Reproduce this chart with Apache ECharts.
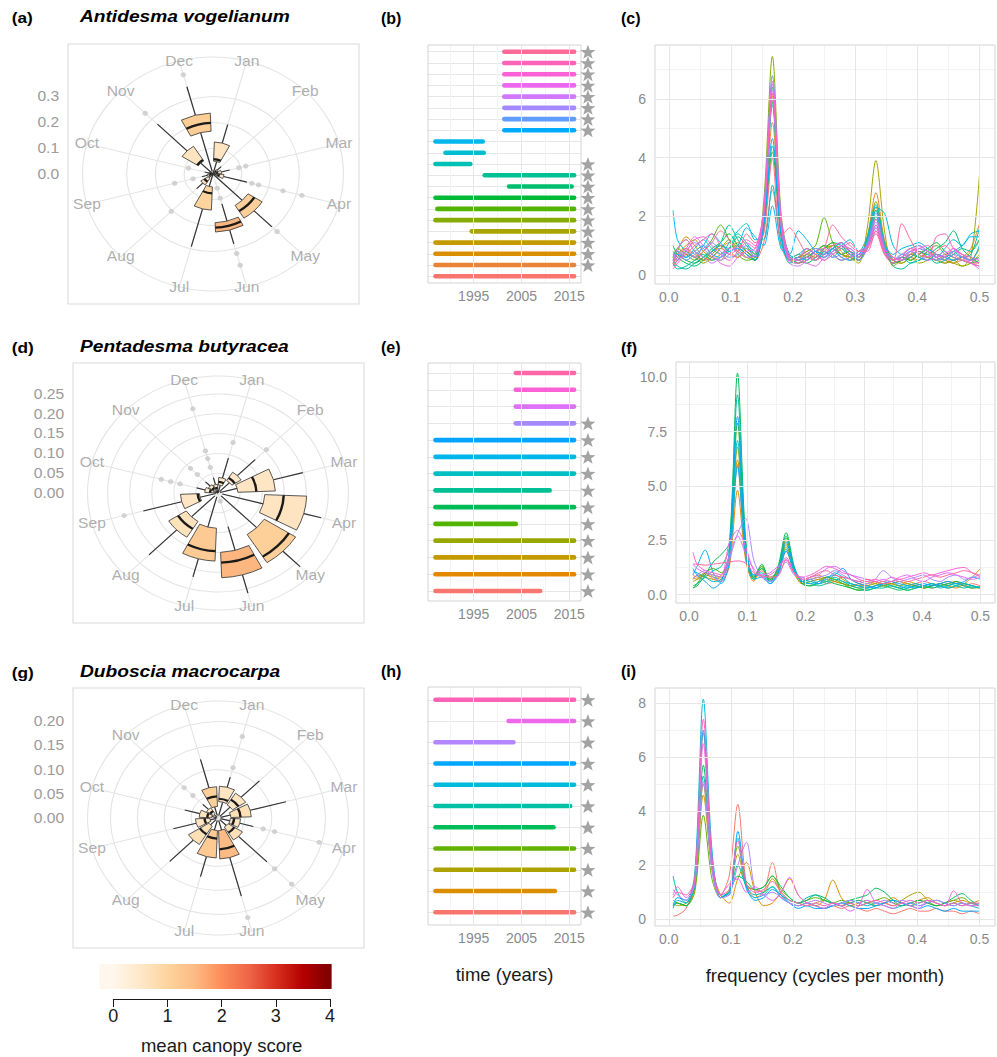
<!DOCTYPE html>
<html>
<head>
<meta charset="utf-8">
<title>Flowering phenology of three tree species</title>
<script src="https://cdn.jsdelivr.net/npm/echarts@6/dist/echarts.min.js"></script>
<style>
  html, body { margin: 0; padding: 0; background: #ffffff; }
  #main { position: absolute; left: 0; top: 0; width: 997px; height: 1057px; }
  #rose { position: absolute; left: 0; top: 0; width: 332px; height: 960px;
          transform: scaleX(1.115); transform-origin: 0 0; }
</style>
</head>
<body>
<div id="main"></div>
<div id="rose"></div>
<script>
const FONT = "'Liberation Sans', Arial, Helvetica, sans-serif";
const MONTHS = ['Jan', 'Feb', 'Mar', 'Apr', 'May', 'Jun', 'Jul', 'Aug', 'Sep', 'Oct', 'Nov', 'Dec'];

// ---------- monthly flowering boxplots (rows Jan..Dec: q1, median, q3, lower whisker, upper whisker) ----------
const ANTIDESMA_BOX = [
  [0.050, 0.058, 0.124, 0.000, 0.198],
  [0.006, 0.012, 0.020, 0.000, 0.040],
  [0.008, 0.015, 0.030, 0.000, 0.060],
  [0.012, 0.020, 0.038, 0.000, 0.122],
  [0.144, 0.170, 0.202, 0.000, 0.290],
  [0.189, 0.208, 0.225, 0.120, 0.280],
  [0.050, 0.075, 0.140, 0.000, 0.291],
  [0.020, 0.035, 0.050, 0.000, 0.080],
  [0.005, 0.010, 0.020, 0.000, 0.040],
  [0.004, 0.008, 0.015, 0.000, 0.030],
  [0.060, 0.065, 0.127, 0.000, 0.273],
  [0.166, 0.198, 0.236, 0.010, 0.350]
];
const ANTIDESMA_CANOPY = [0.6, 0.4, 0.5, 0.5, 1.1, 1.55, 1.0, 0.7, 0.5, 0.4, 0.6, 1.15];
// [month index, value]
const ANTIDESMA_OUTLIERS = [[2, 0.093], [2, 0.118], [3, 0.14], [3, 0.164], [3, 0.252], [3, 0.32], [4, 0.315],
  [5, 0.057], [5, 0.097], [5, 0.319], [5, 0.366], [7, 0.205], [8, 0.072], [8, 0.138], [9, 0.088], [10, 0.333], [11, 0.398]];
const ANTIDESMA_R_TICKS = [0, 0.1, 0.2, 0.3];
const ANTIDESMA_R_MAX = 0.403;

const PENTADESMA_BOX = [
  [0.020, 0.028, 0.039, 0.000, 0.091],
  [0.037, 0.045, 0.062, 0.005, 0.119],
  [0.045, 0.087, 0.130, 0.005, 0.199],
  [0.106, 0.149, 0.201, 0.010, 0.242],
  [0.124, 0.190, 0.208, 0.010, 0.263],
  [0.150, 0.176, 0.214, 0.088, 0.262],
  [0.089, 0.147, 0.172, 0.010, 0.219],
  [0.085, 0.107, 0.132, 0.010, 0.221],
  [0.042, 0.046, 0.085, 0.005, 0.175],
  [0.010, 0.018, 0.030, 0.000, 0.050],
  [0.008, 0.015, 0.025, 0.000, 0.040],
  [0.008, 0.013, 0.022, 0.000, 0.040]
];
const PENTADESMA_CANOPY = [0.5, 0.5, 0.55, 0.6, 1.1, 1.55, 1.2, 0.65, 0.55, 0.5, 0.5, 0.5];
const PENTADESMA_OUTLIERS = [[0, 0.132], [1, 0.155], [5, 0.021], [8, 0.22], [9, 0.089], [9, 0.111], [9, 0.133],
  [10, 0.066], [10, 0.088], [11, 0.067], [11, 0.09], [11, 0.11], [11, 0.22]];
const PENTADESMA_R_TICKS = [0, 0.05, 0.10, 0.15, 0.20, 0.25];
const PENTADESMA_R_MAX = 0.2626;

const DUBOSCIA_BOX = [
  [0.034, 0.040, 0.066, 0.005, 0.088],
  [0.032, 0.045, 0.061, 0.005, 0.109],
  [0.024, 0.042, 0.062, 0.005, 0.131],
  [0.023, 0.030, 0.042, 0.005, 0.068],
  [0.022, 0.036, 0.054, 0.005, 0.129],
  [0.026, 0.065, 0.085, 0.005, 0.168],
  [0.026, 0.043, 0.083, 0.005, 0.126],
  [0.020, 0.040, 0.065, 0.005, 0.127],
  [0.015, 0.025, 0.042, 0.003, 0.086],
  [0.012, 0.020, 0.035, 0.003, 0.064],
  [0.010, 0.017, 0.025, 0.002, 0.040],
  [0.024, 0.045, 0.065, 0.005, 0.126]
];
const DUBOSCIA_CANOPY = [0.6, 0.6, 0.7, 0.6, 0.7, 1.5, 1.2, 0.7, 0.6, 0.6, 0.5, 1.1];
const DUBOSCIA_OUTLIERS = [[0, 0.108], [0, 0.175], [3, 0.087], [3, 0.109], [3, 0.195], [4, 0.149], [4, 0.194],
  [5, 0.214], [10, 0.066], [10, 0.089]];
const DUBOSCIA_R_TICKS = [0, 0.05, 0.10, 0.15, 0.20];
const DUBOSCIA_R_MAX = 0.2158;

// ---------- observation spans per tree (row 1 = bottom) ----------
const ANTIDESMA_SPAN_START = [1987, 1987, 1987, 1987, 1994.6, 1987, 1987.4, 1987, 2002.4, 1997.3, 1987, 1989.1, 1987,
  2001.4, 2001.4, 2001.4, 2001.4, 2001.4, 2001.4, 2001.4, 2001.4];
const ANTIDESMA_SPAN_END = [2016, 2016, 2016, 2016, 2016, 2016, 2016, 2016, 2015.5, 2016, 1994.3, 1997.1, 1996.9,
  2016, 2016, 2016, 2016, 2016, 2016, 2016, 2016];
const ANTIDESMA_SIGNIF = [0, 1, 1, 1, 1, 1, 1, 1, 1, 1, 1, 0, 0, 1, 1, 1, 1, 1, 1, 1, 1];

const PENTADESMA_SPAN_START = [1987, 1987, 1987, 1987, 1987, 1987, 1987, 1987, 1987, 1987, 2003.8, 2003.8, 2003.8, 2003.8];
const PENTADESMA_SPAN_END = [2008.9, 2016, 2016, 2016, 2003.8, 2016, 2010.9, 2016, 2016, 2016, 2016, 2016, 2016, 2016];
const PENTADESMA_SIGNIF = [1, 1, 1, 1, 1, 1, 1, 1, 1, 1, 1, 0, 0, 0];

const DUBOSCIA_SPAN_START = [1987, 1987, 1987, 1987, 1987, 1987, 1987, 1987, 1987, 2002.3, 1987];
const DUBOSCIA_SPAN_END = [2016, 2012, 2016, 2016, 2011.7, 2015.2, 2016, 2016, 2003.3, 2016, 2016];
const DUBOSCIA_SIGNIF = [1, 1, 1, 1, 1, 1, 1, 1, 1, 1, 1];

const YEAR_TICKS = [1995, 2005, 2015];

// ---------- smoothed periodograms, one row per tree ----------
const FREQ = [0.0069, 0.0139, 0.0278, 0.0417, 0.0556, 0.0694, 0.0833, 0.0972, 0.1111, 0.125, 0.1389, 0.1528,
  0.1667, 0.1806, 0.1944, 0.2083, 0.2222, 0.2361, 0.25, 0.2639, 0.2778, 0.2917, 0.3056, 0.3194, 0.3333, 0.3472,
  0.3611, 0.375, 0.3889, 0.4028, 0.4167, 0.4306, 0.4444, 0.4583, 0.4722, 0.4861, 0.5];
const FREQ_TICKS = [0, 0.1, 0.2, 0.3, 0.4, 0.5];

const ANTIDESMA_SPECTRA = [
  [0.3,0.5,0.7,0.6,0.5,0.8,0.9,0.7,0.6,0.8, 0.5,1.1,2.9,1.0,0.5,0.6,0.8,0.5,0.7,0.9, 0.6,0.7,0.5,0.9,1.5,0.8,0.4,0.5,0.7,0.6, 0.5,0.7,0.6,0.4,0.5,0.4,0.4],
  [0.4,0.6,0.9,0.7,0.5,0.6,0.9,1.1,0.8,0.6, 0.7,1.8,5.2,1.5,0.5,0.6,0.7,0.9,0.8,0.7, 1.0,0.8,0.6,1.3,2.8,1.2,0.5,0.4,0.6,0.5, 0.8,0.6,0.4,0.5,0.6,0.9,1.75],
  [0.5,0.8,1.3,1.0,0.6,0.5,0.7,0.9,1.1,0.8, 0.5,2.1,6.2,1.8,0.6,0.4,0.5,0.7,1.0,0.9, 0.7,0.6,0.5,1.2,2.3,1.0,0.6,0.5,0.7,0.8, 0.6,0.5,0.7,0.6,0.5,0.8,1.2],
  [0.6,0.9,1.2,0.8,0.5,0.7,1.0,0.8,0.6,0.9, 0.7,2.0,6.0,1.7,0.5,0.6,0.5,0.8,0.9,1.1, 0.8,0.5,0.6,1.1,2.0,0.9,0.5,0.6,0.5,0.7, 0.9,0.6,0.5,0.4,0.6,0.5,0.9],
  [0.4,0.7,1.0,1.2,0.8,0.6,0.5,0.9,1.0,0.8, 0.6,2.0,6.1,1.7,0.5,0.7,0.6,0.5,0.8,1.0, 0.9,0.6,0.4,1.6,3.9,1.5,0.3,0.5,0.6,0.4, 0.5,0.7,0.5,0.4,0.3,0.6,3.4],
  [0.3,0.5,0.8,0.6,0.4,0.6,0.9,1.2,0.9,0.6, 0.5,2.5,7.45,2.1,0.6,0.5,0.7,0.6,0.9,1.0, 0.7,0.6,0.5,1.3,2.5,1.1,0.5,0.4,0.6,0.8, 0.6,0.5,0.4,0.5,0.3,0.4,0.7],
  [0.6,0.9,0.7,0.5,0.8,1.2,1.7,1.2,0.7,0.5, 0.6,1.5,4.2,1.3,0.5,0.6,0.8,1.0,1.95,1.1, 0.7,0.8,0.6,1.1,2.2,1.0,0.4,0.5,0.7,0.6, 0.8,1.0,0.7,0.5,0.6,0.5,0.6],
  [1.0,0.7,0.5,0.4,0.6,0.9,1.1,1.4,1.0,0.7, 0.5,2.0,5.9,1.7,0.5,0.4,0.6,0.8,1.0,0.7, 0.5,0.6,0.8,1.0,1.9,0.9,0.5,0.6,0.5,0.7, 0.9,1.1,0.8,0.6,0.5,0.4,0.5],
  [0.8,0.6,0.4,0.3,0.5,0.8,1.0,0.9,1.3,1.0, 0.6,2.1,6.4,1.8,0.6,0.5,0.4,0.6,0.9,1.1, 1.0,0.7,0.5,0.9,1.7,0.8,0.4,0.5,0.6,0.8, 0.7,0.9,1.1,1.5,0.9,0.6,0.4],
  [0.5,0.3,0.2,0.4,0.6,0.8,1.1,1.7,1.2,0.8, 0.6,1.6,4.4,1.4,0.4,0.5,0.6,0.8,0.7,0.9, 1.1,0.8,0.5,1.0,2.0,1.0,0.3,0.2,0.4,0.5, 0.6,0.4,0.5,0.7,0.9,0.8,1.2],
  [0.4,0.2,0.3,0.5,0.7,0.5,0.6,0.9,1.4,1.1, 0.7,1.9,5.8,1.7,0.7,0.5,0.6,0.5,0.8,0.6, 0.9,0.7,0.6,1.2,2.4,1.1,0.5,0.6,0.4,0.5, 0.7,0.5,0.6,0.8,0.6,0.7,1.6],
  [0.7,0.8,0.6,0.9,1.2,0.9,0.7,1.1,1.5,1.75, 1.2,1.2,3.06,1.1,0.6,0.7,0.9,0.7,0.6,0.8, 1.0,1.2,0.8,1.3,2.3,2.1,1.0,0.7,0.9,1.0, 0.8,0.6,0.9,1.2,1.0,1.4,1.5],
  [2.2,1.2,0.8,0.6,1.0,1.4,1.1,0.8,1.0,1.6, 1.3,1.0,2.35,0.9,0.7,1.5,1.2,0.8,0.6,0.9, 1.1,0.8,0.7,0.9,1.6,1.0,0.7,0.9,1.0,1.1, 0.9,0.7,0.6,0.8,1.0,1.3,1.3],
  [0.5,0.7,0.6,0.8,1.0,0.7,0.6,0.8,0.9,0.7, 0.5,1.7,4.65,1.4,0.5,0.6,0.5,0.8,0.7,0.9, 0.6,0.5,0.7,1.1,2.2,1.0,0.5,0.6,0.8,0.6, 0.5,0.7,0.6,0.5,0.6,0.5,1.0],
  [0.6,0.8,0.5,0.7,0.9,1.1,0.8,0.6,0.7,1.0, 0.8,2.3,6.8,2.0,0.6,0.5,0.7,0.9,0.8,0.6, 0.7,0.9,0.6,1.1,2.1,1.0,0.5,0.7,0.6,0.9, 0.8,0.6,0.5,0.7,0.6,0.5,0.6],
  [0.7,0.5,0.8,1.1,0.9,0.6,0.5,0.7,1.0,0.9, 0.6,2.1,6.3,1.8,0.5,0.6,0.9,0.7,0.5,0.8, 1.0,0.7,0.5,0.9,1.8,0.8,0.6,0.5,0.8,0.9, 0.7,0.5,0.6,0.8,0.7,0.4,0.3],
  [0.5,0.9,1.2,0.8,0.6,0.4,0.6,0.9,0.8,0.6, 0.7,2.0,6.0,1.7,0.4,0.3,0.5,0.8,0.9,0.7, 0.5,0.6,0.8,1.0,1.6,0.8,0.5,0.7,0.9,0.7, 0.5,0.6,0.8,0.6,0.5,0.4,0.2],
  [0.4,0.6,0.9,1.3,1.0,0.7,0.4,0.3,0.6,0.8, 0.9,2.2,6.5,1.9,0.6,0.5,0.4,0.3,0.6,0.8, 1.0,0.9,0.7,1.0,1.9,0.9,0.6,0.5,0.7,1.0, 0.8,0.6,0.7,0.9,0.6,0.4,0.3],
  [0.3,0.5,0.8,1.2,1.3,1.0,0.7,0.5,0.8,1.1, 0.9,2.2,6.6,1.9,0.5,0.4,0.6,0.5,0.7,1.0, 1.1,0.8,0.6,0.9,1.7,0.8,0.5,0.6,0.8,0.9, 1.0,0.7,0.6,0.9,0.7,0.5,0.4],
  [0.2,0.4,0.7,1.0,1.2,1.4,1.0,0.7,0.9,1.2, 1.0,2.1,6.2,1.8,0.6,0.5,0.9,0.7,0.5,0.7, 0.9,1.1,0.8,0.8,1.5,0.7,0.4,0.6,0.9,0.8, 0.6,1.3,1.4,0.9,0.7,0.6,0.5],
  [0.4,0.7,0.9,0.6,0.8,1.1,1.5,1.2,0.8,1.4, 1.1,1.4,3.98,1.3,1.6,1.2,0.7,0.6,0.9,1.7, 1.3,1.0,0.8,0.9,1.4,0.7,0.5,1.75,1.2,0.7, 0.6,0.8,1.0,0.7,0.5,0.4,0.3]
];
const ANTIDESMA_SPEC_TICKS = [0, 2, 4, 6];

const PENTADESMA_SPECTRA = [
  [0.9,0.8,1.0,0.7,0.6,1.5,6.0,1.8,0.7,1.1, 0.6,0.9,2.0,1.0,0.5,0.6,0.7,0.5,0.6,0.8, 0.7,0.5,0.4,0.6,0.5,0.5,0.6,0.4,0.5,0.6, 0.5,0.4,0.5,0.6,0.4,0.5,0.4],
  [0.8,0.7,0.9,0.8,0.7,1.3,4.8,1.6,0.6,1.2, 0.7,1.1,2.5,1.1,0.6,0.8,0.9,0.7,0.6,0.5, 0.4,0.5,0.6,0.5,0.4,0.5,0.6,0.5,0.4,0.3, 0.4,0.5,0.4,0.3,0.5,0.8,1.2],
  [0.7,0.9,0.8,0.7,0.9,1.6,6.2,1.9,0.8,1.3, 0.7,1.0,2.3,1.2,0.6,0.7,0.8,0.6,0.9,0.7, 0.5,0.4,0.5,0.6,0.4,0.5,0.4,0.6,0.5,0.4, 0.3,0.4,0.5,0.6,0.4,0.3,0.4],
  [0.6,0.7,1.0,0.9,0.8,1.7,6.8,2.0,0.7,1.2, 0.8,1.1,2.2,1.0,0.5,0.6,0.7,0.8,0.6,0.5, 0.4,0.3,0.4,0.5,0.6,0.5,0.4,0.5,0.4,0.3, 0.4,0.5,0.6,0.5,0.4,0.3,0.3],
  [0.3,0.5,1.0,1.2,1.0,1.9,7.9,2.2,0.8,1.3, 0.6,1.2,2.6,1.2,0.5,0.4,0.6,0.8,0.7,0.5, 0.3,0.2,0.3,0.4,0.5,0.4,0.3,0.2,0.3,0.4, 0.5,0.4,0.3,0.4,0.5,0.4,0.3],
  [0.3,0.4,0.9,1.5,1.85,2.4,10.2,2.6,0.7,1.4, 0.6,1.3,2.85,1.3,0.5,0.4,0.5,0.6,0.5,0.4, 0.3,0.2,0.2,0.3,0.4,0.3,0.2,0.3,0.4,0.3, 0.4,0.5,0.4,0.6,0.5,0.4,0.3],
  [0.4,0.5,0.8,1.1,1.3,2.2,9.2,2.4,0.8,1.2, 0.7,1.2,2.7,1.2,0.6,0.5,0.4,0.5,0.7,0.6, 0.4,0.3,0.2,0.3,0.3,0.4,0.3,0.2,0.3,0.4, 0.3,0.4,0.5,0.4,0.3,0.4,0.3],
  [1.1,1.0,0.8,0.6,0.7,1.8,7.1,2.1,0.9,1.0, 0.6,1.0,2.1,1.1,0.7,0.6,0.5,0.6,0.8,0.6, 0.5,0.4,0.3,0.4,0.5,0.4,0.3,0.4,0.5,0.4, 0.5,0.3,0.4,0.5,0.4,0.3,0.4],
  [0.9,1.3,2.05,1.0,0.5,1.5,5.9,1.8,0.7,0.8, 0.5,0.9,2.0,1.1,0.6,0.5,0.6,0.7,1.0,0.8, 0.5,0.4,0.3,0.4,0.5,0.6,0.5,0.4,0.3,0.4, 0.5,0.4,0.3,0.4,0.5,0.4,0.3],
  [1.2,0.9,0.6,0.3,0.6,2.0,8.2,2.3,0.9,0.9, 0.5,1.0,2.4,1.2,0.6,0.7,0.5,0.8,0.9,1.2, 0.7,0.5,0.4,0.3,0.5,0.6,0.4,0.3,0.4,0.5, 0.4,0.5,0.6,0.5,0.6,0.8,0.7],
  [0.7,0.9,1.1,0.8,0.6,1.6,2.8,3.5,1.6,0.8, 0.6,0.9,1.5,0.9,0.8,0.7,0.8,0.9,1.1,0.9, 0.7,0.6,0.5,0.7,1.1,0.8,0.6,0.7,0.8,0.9, 0.7,0.6,0.8,0.9,0.7,0.8,0.9],
  [1.4,1.2,1.0,0.9,0.8,1.8,2.7,1.9,1.2,0.9, 1.0,1.3,1.6,1.0,0.7,0.8,0.9,1.2,1.3,1.1, 0.9,0.8,0.7,0.6,0.7,0.6,0.8,0.9,0.7,0.6, 0.8,0.9,1.0,0.9,0.8,0.7,0.8],
  [1.95,1.4,1.1,1.0,0.9,2.4,2.95,2.2,1.1,0.8, 0.9,1.2,1.7,1.0,0.8,0.9,1.1,1.3,1.2,1.0, 0.9,0.7,0.6,0.7,0.6,0.8,0.7,0.8,0.9,1.0, 0.9,1.0,1.1,1.2,1.25,1.0,0.9],
  [1.4,1.4,1.35,1.4,1.45,1.5,1.55,1.45,1.0,0.85, 0.8,0.85,1.6,1.0,0.7,0.8,1.0,1.1,0.9,0.8, 0.7,0.6,0.7,0.6,0.5,0.6,0.7,0.6,0.7,0.8, 0.9,0.8,0.9,1.0,1.1,1.0,0.8]
];
const PENTADESMA_SPEC_TICKS = [0, 2.5, 5, 7.5, 10];

const DUBOSCIA_SPECTRA = [
  [0.12,0.15,0.4,1.4,6.9,2.2,0.9,1.6,4.25,1.3, 0.8,1.0,2.1,0.9,0.6,0.5,0.6,0.5,0.4,0.5, 0.4,0.5,0.4,0.3,0.4,0.3,0.2,0.3,0.4,0.3, 0.3,0.4,0.3,0.3,0.2,0.3,0.2],
  [0.5,0.6,0.5,1.1,4.6,1.9,0.9,0.6,1.5,2.1, 1.0,0.5,0.6,1.0,1.5,0.9,0.6,0.5,0.7,1.45, 0.8,0.5,0.6,0.7,0.5,0.6,0.8,0.6,0.5,0.7, 0.8,0.6,0.5,0.6,0.7,0.6,0.7],
  [0.6,0.5,0.6,1.2,5.0,1.9,0.8,1.0,2.4,1.2, 1.1,1.0,1.5,1.0,0.7,0.6,0.5,0.6,0.7,0.6, 0.5,0.6,0.7,0.6,0.5,0.6,0.5,0.7,0.9,1.0, 0.7,0.5,0.6,0.7,0.6,0.5,0.6],
  [0.7,0.6,0.5,1.0,3.85,1.5,0.8,1.1,2.7,1.3, 1.1,1.2,1.6,1.1,0.8,0.6,0.7,0.8,0.7,0.6, 0.7,0.6,0.5,0.6,0.7,0.8,0.6,0.5,0.6,0.7, 0.6,0.5,0.6,0.7,0.8,0.6,0.5],
  [0.5,0.6,0.5,1.3,5.7,2.0,0.8,1.0,1.6,1.4, 1.1,1.2,1.6,1.2,0.8,0.6,0.7,0.9,0.8,0.6, 0.5,0.7,0.8,0.9,1.15,1.0,0.7,0.5,0.6,0.7, 0.6,0.5,0.6,0.8,0.95,0.7,0.5],
  [1.6,1.0,0.6,1.2,5.3,1.9,0.8,1.0,2.0,1.2, 0.9,1.0,1.2,0.9,0.7,0.6,0.8,0.9,0.7,0.6, 0.5,0.6,0.7,0.6,0.5,0.6,0.7,0.6,0.5,0.6, 0.7,0.6,0.5,0.6,0.5,0.6,0.5],
  [0.4,0.7,0.6,1.7,8.15,2.6,0.8,1.0,3.0,1.1, 0.8,0.9,1.2,0.8,0.6,0.5,0.6,0.5,0.4,0.5, 0.6,0.7,0.6,0.5,0.6,0.5,0.4,0.5,0.6,0.5, 0.6,0.7,0.6,0.5,0.6,0.5,0.4],
  [0.5,0.8,0.7,1.5,7.0,2.3,0.9,0.9,3.25,1.2, 0.7,0.8,1.1,0.9,0.6,0.4,0.5,0.4,0.4,0.5, 0.6,0.5,0.4,0.4,0.5,0.6,0.7,0.6,0.5,0.4, 0.5,0.4,0.3,0.4,0.3,0.3,0.3],
  [1.1,0.9,0.7,1.3,5.1,1.8,0.8,0.9,2.0,2.85, 1.1,0.9,1.0,0.8,0.6,0.5,0.6,0.7,0.6,0.5, 0.6,0.7,0.6,0.7,0.6,0.7,0.6,0.7,0.6,0.5, 0.6,0.7,0.6,0.5,0.6,0.5,0.6],
  [0.9,1.2,0.8,1.4,6.5,2.0,0.9,1.3,1.5,1.0, 1.2,0.9,0.7,1.0,1.55,0.9,0.6,0.5,0.4,0.6, 0.5,0.3,0.5,1.1,0.6,0.5,0.4,0.6,0.5,0.4, 0.7,0.6,0.5,1.05,0.6,0.5,0.5],
  [0.8,1.0,0.9,1.5,7.4,2.3,0.9,1.1,2.9,1.3, 1.0,1.1,1.4,1.0,0.7,0.6,0.5,0.6,0.5,0.6, 0.5,0.6,0.5,0.6,0.7,0.6,0.5,0.6,0.7,0.6, 0.7,0.6,0.5,0.6,0.5,0.6,0.6]
];
const DUBOSCIA_SPEC_TICKS = [0, 2, 4, 6, 8];

// ---------- colour scales ----------
const ORRD = ['#fff7ec', '#fee8c8', '#fdd49e', '#fdbb84', '#fc8d59', '#ef6548', '#d7301f', '#b30000', '#7f0000'];
const CANOPY_TICKS = [0, 1, 2, 3, 4];
const COLORBAR_SPAN = [-0.26, 4.03];

function hex2rgb(h) { return [1, 3, 5].map(i => parseInt(h.slice(i, i + 2), 16)); }
function orRd(v) {
  const t = Math.max(0, Math.min(1, v / 4)) * (ORRD.length - 1);
  const i = Math.min(Math.floor(t), ORRD.length - 2), f = t - i;
  const a = hex2rgb(ORRD[i]), b = hex2rgb(ORRD[i + 1]);
  return 'rgb(' + a.map((c, j) => Math.round(c + (b[j] - c) * f)).join(',') + ')';
}
// evenly spaced hues in HCL (c = 100, l = 65), starting at 15 degrees
function hueColors(n) {
  const out = [];
  const Xn = 95.047, Yn = 100, Zn = 108.883;
  const den = Xn + 15 * Yn + 3 * Zn, un = 4 * Xn / den, vn = 9 * Yn / den;
  const L = 65, C = 100;
  const gam = x => { x = Math.max(0, Math.min(1, x)); return x <= 0.0031308 ? 12.92 * x : 1.055 * Math.pow(x, 1 / 2.4) - 0.055; };
  for (let k = 0; k < n; k++) {
    const h = (15 + 360 * k / n) * Math.PI / 180;
    const U = C * Math.cos(h), V = C * Math.sin(h);
    const Y = Yn * Math.pow((L + 16) / 116, 3);
    const u = U / (13 * L) + un, v = V / (13 * L) + vn;
    const X = Y * 9 * u / (4 * v), Z = Y * (12 - 3 * u - 20 * v) / (4 * v);
    const x = X / 100, y = Y / 100, z = Z / 100;
    const r = gam(3.2404542 * x - 1.5371385 * y - 0.4985314 * z);
    const g = gam(-0.9692660 * x + 1.8760108 * y + 0.0415560 * z);
    const b = gam(0.0556434 * x - 0.2040259 * y + 1.0572252 * z);
    out.push('#' + [r, g, b].map(c => Math.round(c * 255).toString(16).padStart(2, '0')).join(''));
  }
  return out;
}

const GRID_MAJOR = '#e6e6e6', GRID_MINOR = '#f3f3f3', PANEL_BORDER = '#d4d4d4';
const TICK_TEXT = '#8a8a8a', ROSE_GRID = '#e4e4e4', INK = '#1a1a1a';

// ====================== rose panels (left column) ======================
const ROSE_PANEL = 260, RING = 0.45, DATA_FRAC = 0.40, BOX_WIDTH = 0.85;
const ROSE = [
  { tag: '(a)', species: 'Antidesma vogelianum', box: ANTIDESMA_BOX, canopy: ANTIDESMA_CANOPY,
    outliers: ANTIDESMA_OUTLIERS, ticks: ANTIDESMA_R_TICKS, rMax: ANTIDESMA_R_MAX, digits: 1, left: 61, top: 44, tagTop: 9 },
  { tag: '(d)', species: 'Pentadesma butyracea', box: PENTADESMA_BOX, canopy: PENTADESMA_CANOPY,
    outliers: PENTADESMA_OUTLIERS, ticks: PENTADESMA_R_TICKS, rMax: PENTADESMA_R_MAX, digits: 2, left: 65.5, top: 363, tagTop: 339 },
  { tag: '(g)', species: 'Duboscia macrocarpa', box: DUBOSCIA_BOX, canopy: DUBOSCIA_CANOPY,
    outliers: DUBOSCIA_OUTLIERS, ticks: DUBOSCIA_R_TICKS, rMax: DUBOSCIA_R_MAX, digits: 2, left: 65.5, top: 688, tagTop: 664 }
];

function roseBoxItem(params, api) {
  const cs = params.coordSys, cx = cs.cx, cy = cs.cy;
  const m = api.value(0);
  const q1 = api.value(1), med = api.value(2), q3 = api.value(3), lo = api.value(4), hi = api.value(5);
  const fill = orRd(api.value(6));
  const dist = v => { const p = api.coord([v, m]); return Math.hypot(p[0] - cx, p[1] - cy); };
  const dir = a => { const p = api.coord([hi, a]); return Math.atan2(p[1] - cy, p[0] - cx); };
  let a0 = dir(m - BOX_WIDTH / 2), a1 = dir(m + BOX_WIDTH / 2);
  if (a1 < a0) a1 += 2 * Math.PI;
  const pLo = api.coord([lo, m]), pQ1 = api.coord([q1, m]), pQ3 = api.coord([q3, m]), pHi = api.coord([hi, m]);
  const whisker = () => ({ stroke: '#333333', lineWidth: 1.1 });
  return {
    type: 'group',
    children: [
      { type: 'line', shape: { x1: pLo[0], y1: pLo[1], x2: pQ1[0], y2: pQ1[1] }, style: whisker() },
      { type: 'line', shape: { x1: pQ3[0], y1: pQ3[1], x2: pHi[0], y2: pHi[1] }, style: whisker() },
      { type: 'sector', shape: { cx: cx, cy: cy, r0: dist(q1), r: dist(q3), startAngle: a0, endAngle: a1, clockwise: true },
        style: { fill: fill, stroke: '#3a3a3a', lineWidth: 0.8 } },
      { type: 'arc', shape: { cx: cx, cy: cy, r: dist(med), startAngle: a0, endAngle: a1, clockwise: true },
        style: { stroke: INK, lineWidth: 2.2, fill: 'none' } }
    ]
  };
}

const roseOpt = {
  animation: false,
  textStyle: { fontFamily: FONT },
  title: [], grid: [], xAxis: [], yAxis: [], polar: [], angleAxis: [], radiusAxis: [], series: []
};

ROSE.forEach((p, k) => {
  const cx = p.left + ROSE_PANEL / 2, cy = p.top + ROSE_PANEL / 2;
  const pxPerUnit = ROSE_PANEL * DATA_FRAC / p.rMax;
  const outerVal = p.rMax * RING / DATA_FRAC;
  const topTick = p.ticks[p.ticks.length - 1], step = p.ticks[1] - p.ticks[0];

  roseOpt.title.push({ text: p.tag, left: 10.5, top: p.tagTop, padding: 0,
    textStyle: { fontFamily: FONT, fontSize: 15.5, fontWeight: 'bold', color: '#000' } });
  roseOpt.title.push({ text: p.species, left: 71.7, top: p.tagTop - 1.5, padding: 0,
    textStyle: { fontFamily: FONT, fontSize: 17.2, fontWeight: 'bold', fontStyle: 'italic', color: '#000' } });

  // panel frame
  roseOpt.grid.push({ left: p.left, top: p.top, width: 261, height: ROSE_PANEL, show: true, z: 3,
    borderColor: '#dcdcdc', borderWidth: 1, backgroundColor: 'transparent' });
  roseOpt.xAxis.push({ gridIndex: 2 * k, type: 'value', show: false, min: 0, max: 1 });
  roseOpt.yAxis.push({ gridIndex: 2 * k, type: 'value', show: false, min: 0, max: 1 });
  // radial scale labels, left of the frame
  roseOpt.grid.push({ left: p.left, top: cy - topTick * pxPerUnit, width: 10, height: topTick * pxPerUnit, show: false });
  roseOpt.xAxis.push({ gridIndex: 2 * k + 1, type: 'value', show: false, min: 0, max: 1 });
  roseOpt.yAxis.push({ gridIndex: 2 * k + 1, type: 'value', min: 0, max: topTick, interval: step,
    axisLine: { show: false }, axisTick: { show: false }, splitLine: { show: false },
    axisLabel: { margin: 8, color: '#9a9a9a', fontSize: 14, formatter: v => v.toFixed(p.digits) } });

  // data polar: spokes + outer ring
  roseOpt.polar.push({ center: [cx, cy], radius: ROSE_PANEL * RING });
  roseOpt.angleAxis.push({ polarIndex: 2 * k, type: 'value', min: 0, max: 12, interval: 1, startAngle: 75, clockwise: true,
    axisLine: { show: true, lineStyle: { color: ROSE_GRID, width: 1 } }, axisTick: { show: false },
    axisLabel: { show: false }, splitLine: { show: true, lineStyle: { color: ROSE_GRID, width: 1 } } });
  roseOpt.radiusAxis.push({ polarIndex: 2 * k, type: 'value', min: 0, max: outerVal,
    axisLine: { show: false }, axisTick: { show: false }, axisLabel: { show: false }, splitLine: { show: false } });
  // radial break circles
  roseOpt.polar.push({ center: [cx, cy], radius: topTick * pxPerUnit });
  roseOpt.angleAxis.push({ polarIndex: 2 * k + 1, type: 'value', min: 0, max: 12, show: false });
  roseOpt.radiusAxis.push({ polarIndex: 2 * k + 1, type: 'value', min: 0, max: topTick, interval: step,
    axisLine: { show: false }, axisTick: { show: false }, axisLabel: { show: false },
    splitLine: { show: true, lineStyle: { color: ROSE_GRID, width: 1 } } });

  roseOpt.series.push({
    type: 'scatter', coordinateSystem: 'polar', polarIndex: 2 * k, silent: true, z: 2,
    data: p.outliers.map(o => [o[1], o[0]]), symbolSize: 5, itemStyle: { color: '#c9c9c9' }
  });
  roseOpt.series.push({
    type: 'custom', coordinateSystem: 'polar', polarIndex: 2 * k, silent: true, z: 3,
    encode: { angle: 0, radius: 3 },
    data: p.box.map((b, i) => [i, b[0], b[1], b[2], b[3], b[4], p.canopy[i]]),
    renderItem: roseBoxItem
  });
  roseOpt.series.push({
    type: 'scatter', coordinateSystem: 'polar', polarIndex: 2 * k, silent: true, z: 4,
    data: MONTHS.map((mName, i) => [outerVal, i]), symbolSize: 1, itemStyle: { color: 'rgba(0,0,0,0)' },
    label: { show: true, position: 'inside', formatter: q => MONTHS[q.dataIndex], color: '#9a9a9a', fontSize: 14, fontFamily: FONT }
  });
});

// ====================== span panels, periodograms, colour bar ======================
const SPAN_YEARS = [1985.44, 2017.45];
const STAR_YEAR = 2018.9;
const STAR_PATH = 'path://M12,0 L14.9,8.1 L23.4,8.3 L16.7,13.4 L19.1,21.6 L12,16.8 L4.9,21.6 L7.3,13.4 L0.6,8.3 L9.1,8.1 Z';
const SPANS = [
  { start: ANTIDESMA_SPAN_START, end: ANTIDESMA_SPAN_END, signif: ANTIDESMA_SIGNIF, top: 45, tag: '(b)', tagTop: 10 },
  { start: PENTADESMA_SPAN_START, end: PENTADESMA_SPAN_END, signif: PENTADESMA_SIGNIF, top: 363, tag: '(e)', tagTop: 339 },
  { start: DUBOSCIA_SPAN_START, end: DUBOSCIA_SPAN_END, signif: DUBOSCIA_SIGNIF, top: 687, tag: '(h)', tagTop: 663 }
];
const FREQ_RANGE = [-0.0222, 0.525];
const SPECS = [
  { lines: ANTIDESMA_SPECTRA, ticks: ANTIDESMA_SPEC_TICKS, yRange: [-0.31, 7.84], minor: 1, digits: 0,
    left: 655, top: 45, width: 340, height: 239, tag: '(c)', tagTop: 10 },
  { lines: PENTADESMA_SPECTRA, ticks: PENTADESMA_SPEC_TICKS, yRange: [-0.39, 10.71], minor: 1.25, digits: 1,
    left: 676, top: 362, width: 319, height: 241, tag: '(f)', tagTop: 340 },
  { lines: DUBOSCIA_SPECTRA, ticks: DUBOSCIA_SPEC_TICKS, yRange: [-0.25, 8.56], minor: 1, digits: 0,
    left: 655, top: 688, width: 340, height: 238, tag: '(i)', tagTop: 663 }
];

const inTicks = (v, ticks) => ticks.some(t => Math.abs(t - v) < 1e-6);
const tagStyle = { fontFamily: FONT, fontSize: 16, fontWeight: 'bold', color: '#000' };
const nameStyle = { fontFamily: FONT, fontSize: 18.5, color: INK };

function majorLines(gi, axis, values) {
  return {
    type: 'line', xAxisIndex: gi, yAxisIndex: gi, data: [], silent: true, z: 1,
    markLine: {
      silent: true, symbol: ['none', 'none'], label: { show: false }, animation: false,
      lineStyle: { color: GRID_MAJOR, width: 1, type: 'solid' },
      data: values.map(v => (axis === 'x' ? { xAxis: v } : { yAxis: v }))
    }
  };
}

const mainOpt = {
  animation: false,
  backgroundColor: '#ffffff',
  textStyle: { fontFamily: FONT },
  title: [], grid: [], xAxis: [], yAxis: [], series: []
};

SPANS.forEach((p, k) => {
  const n = p.start.length, colors = hueColors(n);
  mainOpt.title.push({ text: p.tag, left: 381, top: p.tagTop, padding: 0, textStyle: tagStyle });
  mainOpt.grid.push({ left: 428, top: p.top, width: 153, height: 238, show: true, z: 3,
    borderColor: PANEL_BORDER, borderWidth: 1, backgroundColor: 'transparent' });
  const xa = {
    gridIndex: k, type: 'value', min: SPAN_YEARS[0], max: SPAN_YEARS[1], minInterval: 5, maxInterval: 5,
    axisLine: { show: false }, axisTick: { show: false },
    axisLabel: { color: TICK_TEXT, fontSize: 14, margin: 6, showMinLabel: false, showMaxLabel: false,
      formatter: v => (inTicks(v, YEAR_TICKS) ? String(Math.round(v)) : '') },
    splitLine: { show: true, showMinLine: false, showMaxLine: false, lineStyle: { color: GRID_MINOR, width: 1 } }
  };
  if (k === 2) Object.assign(xa, { name: 'time (years)', nameLocation: 'middle', nameGap: 40, nameTextStyle: nameStyle });
  mainOpt.xAxis.push(xa);
  mainOpt.yAxis.push({
    gridIndex: k, type: 'value', min: 0.4, max: n + 0.6, minInterval: 1, maxInterval: 1,
    axisLine: { show: false }, axisTick: { show: false }, axisLabel: { show: false },
    splitLine: { show: true, showMinLine: false, showMaxLine: false, lineStyle: { color: GRID_MAJOR, width: 1 } }
  });
  mainOpt.series.push(majorLines(k, 'x', YEAR_TICKS));
  mainOpt.series.push({
    type: 'custom', xAxisIndex: k, yAxisIndex: k, silent: true, z: 2,
    encode: { x: [0, 1], y: 2 },
    data: p.start.map((s, i) => [s, p.end[i], i + 1]),
    renderItem: (params, api) => {
      const row = api.value(2);
      const a = api.coord([api.value(0), row]), b = api.coord([api.value(1), row]);
      return { type: 'line', shape: { x1: a[0], y1: a[1], x2: b[0], y2: b[1] },
        style: { stroke: colors[row - 1], lineWidth: 4.6, lineCap: 'round' } };
    }
  });
  mainOpt.series.push({
    type: 'scatter', xAxisIndex: k, yAxisIndex: k, silent: true, z: 5, clip: false,
    symbol: STAR_PATH, symbolSize: [15, 14], itemStyle: { color: '#8c8c8c' },
    data: p.signif.map((s, i) => (s ? [STAR_YEAR, i + 1] : null)).filter(d => d)
  });
});

SPECS.forEach((p, j) => {
  const gi = 3 + j, colors = hueColors(p.lines.length);
  mainOpt.title.push({ text: p.tag, left: 621, top: p.tagTop, padding: 0, textStyle: tagStyle });
  mainOpt.grid.push({ left: p.left, top: p.top, width: p.width, height: p.height, show: true, z: 3,
    borderColor: PANEL_BORDER, borderWidth: 1, backgroundColor: 'transparent' });
  const xa = {
    gridIndex: gi, type: 'value', min: FREQ_RANGE[0], max: FREQ_RANGE[1], minInterval: 0.05, maxInterval: 0.05,
    axisLine: { show: false }, axisTick: { show: false },
    axisLabel: { color: TICK_TEXT, fontSize: 14, margin: 6, showMinLabel: false, showMaxLabel: false,
      formatter: v => (inTicks(v, FREQ_TICKS) ? v.toFixed(1) : '') },
    splitLine: { show: true, showMinLine: false, showMaxLine: false, lineStyle: { color: GRID_MINOR, width: 1 } }
  };
  if (j === 2) Object.assign(xa, { name: 'frequency (cycles per month)', nameLocation: 'middle', nameGap: 40, nameTextStyle: nameStyle });
  mainOpt.xAxis.push(xa);
  mainOpt.yAxis.push({
    gridIndex: gi, type: 'value', min: p.yRange[0], max: p.yRange[1], minInterval: p.minor, maxInterval: p.minor,
    axisLine: { show: false }, axisTick: { show: false },
    axisLabel: { color: TICK_TEXT, fontSize: 14, margin: 9, showMinLabel: false, showMaxLabel: false,
      formatter: v => (inTicks(v, p.ticks) ? v.toFixed(p.digits) : '') },
    splitLine: { show: true, showMinLine: false, showMaxLine: false, lineStyle: { color: GRID_MINOR, width: 1 } }
  });
  mainOpt.series.push(majorLines(gi, 'x', FREQ_TICKS));
  mainOpt.series.push(majorLines(gi, 'y', p.ticks));
  p.lines.forEach((vals, i) => {
    mainOpt.series.push({
      type: 'line', xAxisIndex: gi, yAxisIndex: gi, silent: true, z: 2,
      data: FREQ.map((f, t) => [f, vals[t]]), showSymbol: false, symbol: 'none', smooth: 0.3,
      lineStyle: { width: 1, color: colors[i] }, itemStyle: { color: colors[i] }
    });
  });
});

// colour bar for mean canopy score
(function () {
  const gi = 6;
  mainOpt.grid.push({ left: 113.3, top: 964, width: 216.7, height: 25, show: false });
  mainOpt.xAxis.push({
    gridIndex: gi, type: 'value', min: CANOPY_TICKS[0], max: CANOPY_TICKS[CANOPY_TICKS.length - 1], interval: 1, offset: 10,
    axisLine: { show: true, lineStyle: { color: INK, width: 1 } },
    axisTick: { show: true, length: 8, lineStyle: { color: INK, width: 1 } },
    axisLabel: { color: INK, fontSize: 18, margin: 8 }, splitLine: { show: false },
    name: 'mean canopy score', nameLocation: 'middle', nameGap: 37, nameTextStyle: nameStyle
  });
  mainOpt.yAxis.push({ gridIndex: gi, type: 'category', data: ['score'], show: false });
  const lo = COLORBAR_SPAN[0], hi = COLORBAR_SPAN[1];
  const stops = [{ offset: 0, color: ORRD[0] }].concat(
    ORRD.map((c, i) => ({ offset: (4 * i / (ORRD.length - 1) - lo) / (hi - lo), color: c })),
    [{ offset: 1, color: ORRD[ORRD.length - 1] }]);
  mainOpt.series.push({
    type: 'custom', xAxisIndex: gi, yAxisIndex: gi, silent: true, clip: false,
    encode: { x: [0, 1], y: 2 },
    data: [[lo, hi, 0]],
    renderItem: (params, api) => {
      const a = api.coord([api.value(0), 0]), b = api.coord([api.value(1), 0]);
      const h = api.size([0, 1])[1];
      return { type: 'rect', shape: { x: a[0], y: a[1] - h / 2, width: b[0] - a[0], height: h },
        style: { fill: new echarts.graphic.LinearGradient(0, 0, 1, 0, stops) } };
    }
  });
})();

const mainChart = echarts.init(document.getElementById('main'), null, { renderer: 'svg' });
mainChart.setOption(mainOpt);
const roseChart = echarts.init(document.getElementById('rose'), null, { renderer: 'svg' });
roseChart.setOption(roseOpt);
</script>
</body>
</html>
